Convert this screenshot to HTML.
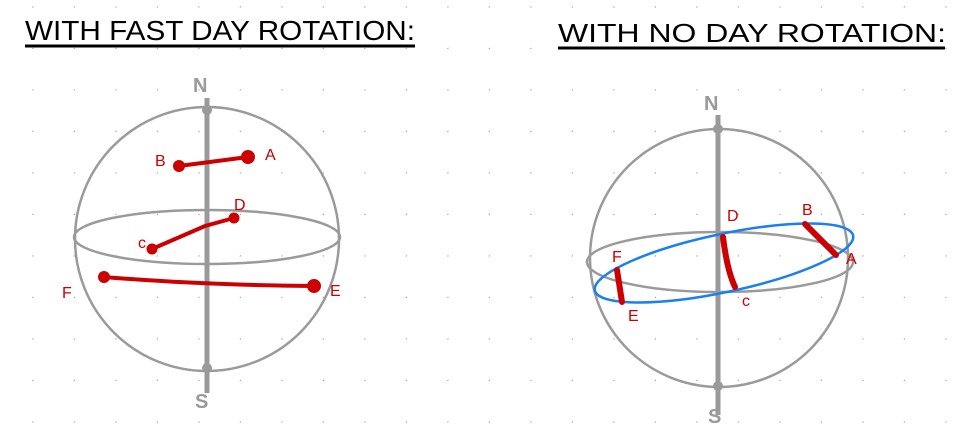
<!DOCTYPE html>
<html><head><style>
html,body{margin:0;padding:0;background:#fff;}
svg{display:block;}
text{font-family:"Liberation Sans",sans-serif;}
</style></head><body>
<svg width="968" height="438" viewBox="0 0 968 438" xmlns="http://www.w3.org/2000/svg">
<defs>
<pattern id="g" x="-8" y="-34" width="41.5" height="41.5" patternUnits="userSpaceOnUse">
<circle cx="41.5" cy="41.5" r="1.4" fill="#a8a8a8"/>
</pattern>
</defs>
<rect width="968" height="438" fill="url(#g)"/>
<text x="25" y="40" font-size="28" fill="#000" textLength="390" lengthAdjust="spacingAndGlyphs">WITH FAST DAY ROTATION:</text>
<line x1="25" y1="46" x2="415" y2="46" stroke="#000" stroke-width="3"/>
<text x="558" y="42" font-size="26" fill="#000" textLength="388" lengthAdjust="spacingAndGlyphs">WITH NO DAY ROTATION:</text>
<line x1="558" y1="48" x2="945" y2="48" stroke="#000" stroke-width="3"/>

<g fill="none" stroke="#9a9a9a" stroke-width="2.5">
<circle cx="207" cy="239" r="132"/>
<ellipse cx="207" cy="237" rx="133" ry="27"/>
</g>
<line x1="207" y1="98" x2="207" y2="393" stroke="#9a9a9a" stroke-width="5"/>
<circle cx="207" cy="110" r="5" fill="#9a9a9a"/>
<circle cx="207" cy="368" r="5" fill="#9a9a9a"/>
<text x="193" y="92" font-size="20" font-weight="bold" fill="#9a9a9a">N</text>
<text x="195" y="408" font-size="20" font-weight="bold" fill="#9a9a9a">S</text>
<g stroke="#cc0000" stroke-width="4" fill="#cc0000" stroke-linecap="round">
<line x1="179" y1="166" x2="248" y2="157"/><circle cx="179" cy="166" r="4"/><circle cx="248" cy="157" r="5"/>
<path d="M152 249 L205 226 L234 218" fill="none"/><circle cx="152" cy="249" r="3.5"/><circle cx="234" cy="218" r="3.5"/>
<path d="M104 277 Q200 285 314 286" fill="none"/><circle cx="104" cy="277" r="4"/><circle cx="314" cy="286" r="5"/>
</g>
<g fill="#cc0000" font-size="16">
<text x="155" y="166">B</text><text x="265" y="160">A</text>
<text x="234" y="210">D</text><text x="138" y="248">c</text>
<text x="62" y="298">F</text><text x="330" y="296">E</text>
</g>

<g fill="none" stroke="#9a9a9a" stroke-width="2.5">
<circle cx="719" cy="258" r="129"/>
<ellipse cx="720" cy="262" rx="133" ry="30"/>
</g>
<line x1="718" y1="115" x2="718" y2="415" stroke="#9a9a9a" stroke-width="5"/>
<circle cx="718" cy="129" r="5" fill="#9a9a9a"/>
<circle cx="718" cy="386" r="5" fill="#9a9a9a"/>
<text x="704" y="110" font-size="20" font-weight="bold" fill="#9a9a9a">N</text>
<text x="708" y="423" font-size="20" font-weight="bold" fill="#9a9a9a">S</text>
<ellipse cx="724" cy="263" rx="132" ry="29" transform="rotate(-12 724 263)" fill="none" stroke="#1a7ff0" stroke-width="2.5"/>
<g stroke="#cc0000" stroke-width="6" fill="#cc0000" stroke-linecap="round">
<line x1="805" y1="224" x2="836" y2="255"/>
<path d="M723 237 Q727 270 735 287" fill="none"/>
<line x1="617" y1="270" x2="622" y2="302"/>
</g>
<g fill="#cc0000" font-size="16">
<text x="802" y="215">B</text><text x="846" y="264">A</text>
<text x="727" y="221">D</text><text x="742" y="306">c</text>
<text x="612" y="262">F</text><text x="628" y="321">E</text>
</g>
</svg>
</body></html>
